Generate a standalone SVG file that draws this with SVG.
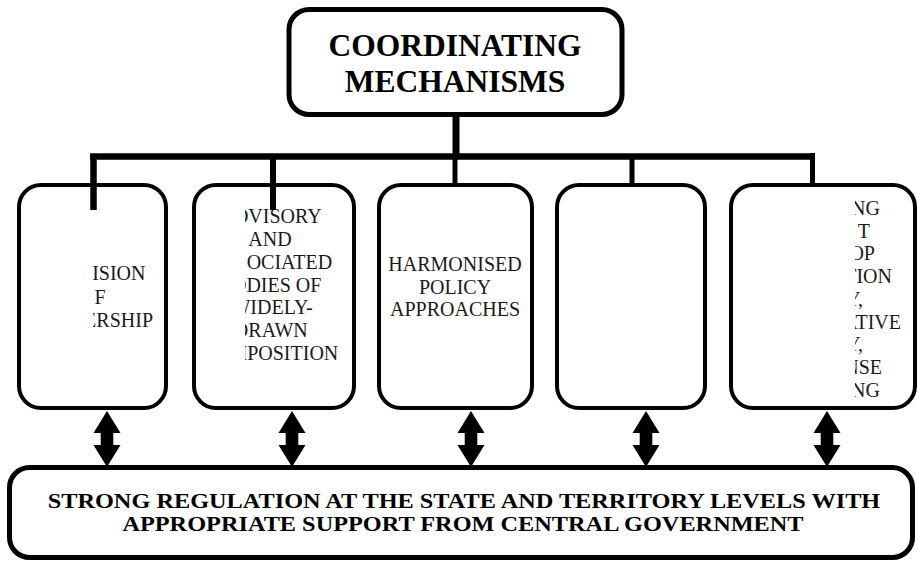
<svg xmlns="http://www.w3.org/2000/svg" width="917" height="562" viewBox="0 0 917 562">
<style>
.box{fill:#fff;stroke:#000;stroke-width:4}
.big{fill:#fff;stroke:#000;stroke-width:5}
.ln{stroke:#000;fill:none}
.arr{fill:#000}
.f{font-family:"Liberation Serif","Times New Roman",serif}
</style>
<defs>
<clipPath id="c1"><rect x="93" y="186" width="72" height="220"/></clipPath>
<clipPath id="c2"><rect x="245" y="186" width="108" height="220"/></clipPath>
<clipPath id="c5"><rect x="855" y="186" width="58" height="220"/></clipPath>
<path id="dbl" d="M0,0 L13.5,22 L6.3,22 L6.3,34 L13.5,34 L0,56 L-13.5,34 L-6.3,34 L-6.3,22 L-13.5,22 Z"/>
</defs>
<rect width="917" height="562" fill="#fff"/>

<g id="top" class="f" font-weight="bold" font-size="31.5" text-anchor="middle" fill="#000">
<rect class="big" x="289" y="9.5" width="333" height="105" rx="20"/>
<text x="455" y="56">COORDINATING</text>
<text x="455" y="92">MECHANISMS</text>
</g>

<g id="box1">
<rect class="box" x="19" y="185" width="147" height="223" rx="22"/>
<g clip-path="url(#c1)" class="f" font-size="20" fill="#1a1a1a" text-anchor="end">
<text x="145.5" y="280">ISION</text>
<text x="105.6" y="303.5">F</text>
<text x="153" y="327">ERSHIP</text>
</g>
</g>

<g id="box2">
<rect class="box" x="194" y="185" width="160" height="223" rx="22"/>
<g clip-path="url(#c2)" class="f" font-size="20" fill="#1a1a1a" text-anchor="end">
<text x="321.7" y="223">DVISORY</text>
<text x="291.7" y="246">AND</text>
<text x="332.2" y="269">OCIATED</text>
<text x="321.4" y="291.5">ODIES OF</text>
<text x="312.8" y="314">WIDELY-</text>
<text x="307.8" y="337">DRAWN</text>
<text x="338.3" y="360">MPOSITION</text>
</g>
</g>

<g id="box3">
<rect class="box" x="379" y="185" width="153" height="223" rx="22"/>
<g class="f" font-size="20" fill="#1a1a1a" text-anchor="middle">
<text x="455" y="271">HARMONISED</text>
<text x="455" y="293.5">POLICY</text>
<text x="455" y="316">APPROACHES</text>
</g>
</g>

<g id="box4">
<rect class="box" x="557" y="185" width="148" height="223" rx="22"/>
</g>

<g id="box5">
<rect class="box" x="731" y="185" width="184" height="223" rx="22"/>
<g clip-path="url(#c5)" class="f" font-size="20" fill="#1a1a1a" text-anchor="end">
<text x="880" y="215">NG</text>
<text x="870" y="237.5">T</text>
<text x="875" y="260">OP</text>
<text x="892" y="283">TION</text>
<text x="863" y="306">Y,</text>
<text x="901" y="328.5">ATIVE</text>
<text x="863" y="351">Y,</text>
<text x="882" y="374">NSE</text>
<text x="880" y="397">NG</text>
</g>
</g>

<g id="bottom">
<rect class="big" x="9.5" y="467.5" width="903" height="90" rx="20"/>
<g class="f" font-weight="bold" font-size="24.3" fill="#000" text-anchor="middle">
<text x="464" y="508" transform="translate(0,508) scale(1,0.86) translate(0,-508)">STRONG REGULATION AT THE STATE AND TERRITORY LEVELS WITH</text>
<text x="463" y="531" transform="translate(0,531) scale(1,0.86) translate(0,-531)">APPROPRIATE SUPPORT FROM CENTRAL GOVERNMENT</text>
</g>
</g>

<g id="connectors">
<line class="ln" x1="456" y1="116" x2="456" y2="156" stroke-width="7"/>
<line class="ln" x1="90" y1="156.5" x2="815" y2="156.5" stroke-width="6.5"/>
<line class="ln" x1="93.5" y1="156" x2="93.5" y2="210" stroke-width="6.5"/>
<line class="ln" x1="273" y1="156" x2="273" y2="210" stroke-width="6"/>
<line class="ln" x1="455" y1="156" x2="455" y2="185" stroke-width="5"/>
<line class="ln" x1="632" y1="156" x2="632" y2="185" stroke-width="5"/>
<line class="ln" x1="812.5" y1="153" x2="812.5" y2="185" stroke-width="5"/>
<use href="#dbl" class="arr" x="107" y="411"/>
<use href="#dbl" class="arr" x="292" y="411"/>
<use href="#dbl" class="arr" x="471" y="411"/>
<use href="#dbl" class="arr" x="646" y="411"/>
<use href="#dbl" class="arr" x="827" y="411"/>
</g>
</svg>
